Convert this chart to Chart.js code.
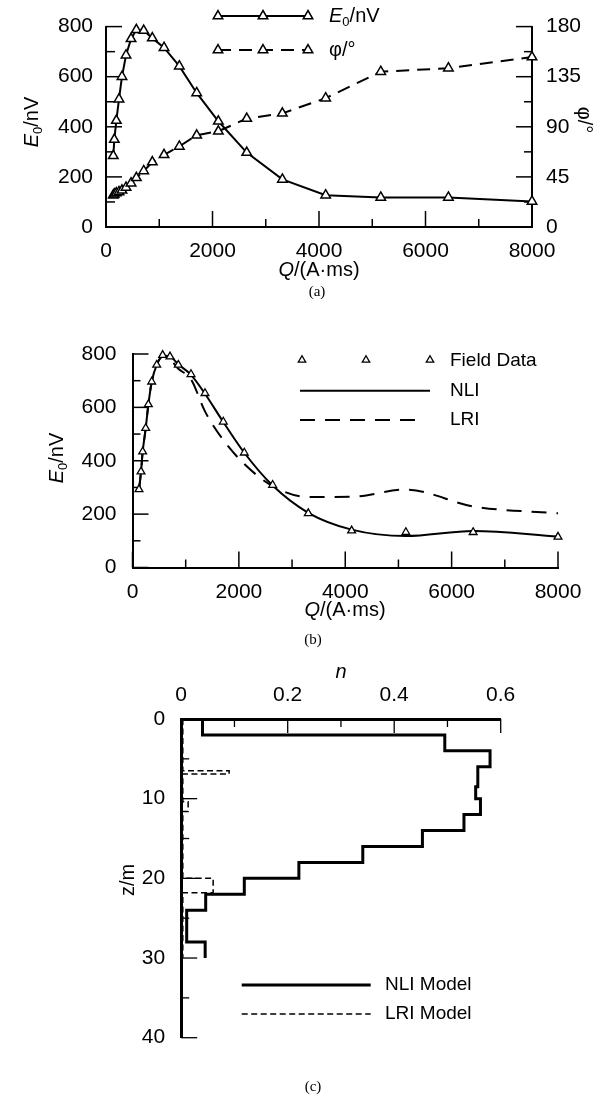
<!DOCTYPE html>
<html><head><meta charset="utf-8">
<script src="https://cdn.jsdelivr.net/npm/chart.js@4.4.1/dist/chart.umd.min.js"></script>
<style>
html,body{margin:0;padding:0;background:#fff;}
body{width:614px;height:1099px;position:relative;overflow:hidden;}
canvas{position:absolute;left:0;}
</style></head><body>
<canvas id="ca" width="614" height="305" style="top:0px;width:614px;height:305px"></canvas>
<canvas id="cb" width="614" height="330" style="top:320px;width:614px;height:330px"></canvas>
<canvas id="cc" width="614" height="449" style="top:650px;width:614px;height:449px"></canvas>
<script>
// ---------- data (a) ----------
const qA   = [137,156,194,244,300,376,470,570,708,870,1090,1377,1703,2110,2643,3312,4125,5160,6430,8000];
const e0A  = [284,349,425,510,600,686,751,787,784,754,716,642,535,422,297,190,127,118,118,102];
const phiA = [28.6,29.5,30.5,31.5,33,35.5,39.3,44.2,50.3,58.3,64.8,72.4,82.4,86,97.4,102.1,115.7,139.5,142.6,152.6];
// ---------- data (b) ----------
const qB     = [122,160,191,248,298,361,455,567,705,861,1100,1363,1707,2102,2635,3305,4120,5140,6405,8000];
const fieldB = [293,359,434,522,611,696,759,796,790,759,724,653,546,430,309,203,138,132,132,115];
const nliB   = [291,358,433,521,610,695,759,793,791,761,722,651,545,430,307,205,142,118,137,116];
const lriB   = [291,358,433,521,610,695,759,790,780,745,705,585,478,388,305,264,265,292,229,203];
// ---------- data (c) : layered models ----------
const nliN      = [0.04,0.495,0.58,0.557,0.553,0.562,0.531,0.453,0.341,0.221,0.1185,0.046,0.0103,0.045];
const nliBottom = [2,4,6,8.5,10,12,14,16,18,20,22,24,28,30];
const lriN      = [0.003,0.09,0.003,0.013,0.003,0.06,0.003];
const lriBottom = [6.5,6.9,10.4,11.6,20,21.8,30];
// ---------- tick labels ----------
const qTicks   = [0,2000,4000,6000,8000];
const eTicks   = [0,200,400,600,800];
const phiTicks = [0,45,90,135,180];
const nTicks   = [0,0.2,0.4,0.6];
const zTicks   = [0,10,20,30,40];

const FONT  = "'Liberation Sans', Arial, Helvetica, sans-serif";
const SERIF = "'Liberation Serif', 'Times New Roman', serif";
Chart.defaults.font.family = FONT;
Chart.defaults.color = '#000';

function setTicks(vals){ return s => { s.ticks = vals.map(v => ({value:v})); }; }
function fixW(w){ return s => { s.width = w; }; }
function fixH(h){ return s => { s.height = h; }; }
function pts(xs, ys){ return xs.map((x,i)=>({x:x, y:ys[i]})); }
function layers(ns, bottoms){ const d=[{x:ns[0], y:0}]; ns.forEach((n,i)=>d.push({x:n, y:bottoms[i]})); return d; }

function axis(pos, min, max, vals, w, h, padding, bw, extra){
  const o = {
    type:'linear', position:pos, min:min, max:max,
    grid:{display:false, drawTicks:false},
    border:{display:true, color:'#000', width:bw},
    ticks:{font:{size:21}, color:'#000', padding:padding, maxRotation:0, autoSkip:false, callback:v=>String(v)},
    afterBuildTicks:setTicks(vals)
  };
  if (w!=null) o.afterFit = fixW(w);
  if (h!=null) o.afterFit = fixH(h);
  return Object.assign(o, extra||{});
}

function tri(ctx, x, y, r, lw){
  ctx.save();
  ctx.beginPath();
  for (let k=0;k<3;k++){
    const a = k*2*Math.PI/3;
    const px = x + Math.sin(a)*r, py = y - Math.cos(a)*r;
    if (k===0) ctx.moveTo(px,py); else ctx.lineTo(px,py);
  }
  ctx.closePath();
  ctx.fillStyle='#fff'; ctx.fill();
  ctx.lineWidth=lw; ctx.strokeStyle='#000'; ctx.stroke();
  ctx.restore();
}
function line(ctx, x1, y1, x2, y2, lw, dash){
  ctx.save(); ctx.beginPath(); ctx.setLineDash(dash||[]); ctx.lineWidth=lw; ctx.strokeStyle='#000';
  ctx.moveTo(x1,y1); ctx.lineTo(x2,y2); ctx.stroke(); ctx.restore();
}
function rich(ctx, parts, x, y, rot, align){
  ctx.save();
  ctx.translate(x,y);
  if (rot) ctx.rotate(rot);
  ctx.textBaseline='middle'; ctx.textAlign='left'; ctx.fillStyle='#000';
  const f = p => (p.i?'italic ':'') + p.s + 'px ' + (p.f||FONT);
  let tot=0;
  parts.forEach(p=>{ ctx.font=f(p); p.w=ctx.measureText(p.t).width; tot+=p.w; });
  let cx = align==='left' ? 0 : -tot/2;
  parts.forEach(p=>{ ctx.font=f(p); ctx.fillText(p.t, cx, p.dy||0); cx+=p.w; });
  ctx.restore();
}
function tickPlugin(specs){
  return { id:'inTicks', beforeDatasetsDraw(chart){
    const ctx=chart.ctx; ctx.save(); ctx.strokeStyle='#000';
    specs.forEach(sp=>{
      const s=chart.scales[sp.id]; ctx.lineWidth=sp.lw;
      const n=Math.round((sp.max-sp.min)/sp.step);
      for(let i=0;i<=n;i++){
        const v=sp.min+i*sp.step;
        const len=(i%sp.every===0)?sp.major:sp.minor;
        const p=s.getPixelForValue(v);
        ctx.beginPath();
        if(sp.side==='left'){ ctx.moveTo(s.right,p); ctx.lineTo(s.right+len,p); }
        else if(sp.side==='right'){ ctx.moveTo(s.left,p); ctx.lineTo(s.left-len,p); }
        else if(sp.side==='bottom'){ ctx.moveTo(p,s.top); ctx.lineTo(p,s.top-len); }
        else { ctx.moveTo(p,s.bottom); ctx.lineTo(p,s.bottom+len); }
        ctx.stroke();
      }
    });
    ctx.restore();
  }};
}
const E0 = s => [{t:'E',i:1,s:s},{t:'0',s:Math.round(s*0.65),dy:Math.round(s*0.28)},{t:'/nV',s:s}];
const QT = s => [{t:'Q',i:1,s:s},{t:'/(A·ms)',s:s}];
const baseOpts = {responsive:false, animation:false, devicePixelRatio:1, events:[],
  plugins:{legend:{display:false}, tooltip:{enabled:false}}};

// ================= (a) =================
new Chart(document.getElementById('ca'), {
  type:'scatter',
  data:{datasets:[
    {label:'E0/nV', data:pts(qA,e0A), yAxisID:'y', showLine:true, clip:false, borderColor:'#000', borderWidth:2,
     pointStyle:'triangle', pointRadius:5.5, pointBackgroundColor:'#fff', pointBorderColor:'#000', pointBorderWidth:1.5},
    {label:'φ/°', data:pts(qA,phiA), yAxisID:'y1', showLine:true, clip:false, borderColor:'#000', borderWidth:2, borderDash:[13,8],
     pointStyle:'triangle', pointRadius:5.5, pointBackgroundColor:'#fff', pointBorderColor:'#000', pointBorderWidth:1.5}
  ]},
  options:Object.assign({}, baseOpts, {
    layout:{padding:{top:15,left:0,right:0,bottom:0}},
    scales:{
      x: axis('bottom',0,8000,qTicks,null,78,12,2),
      y: axis('left',0,800,eTicks,106,null,13,2),
      y1: axis('right',0,180,phiTicks,82,null,14,2)
    }
  }),
  plugins:[tickPlugin([
    {id:'x',side:'bottom',min:0,max:8000,step:1000,every:2,major:16,minor:8,lw:1.5},
    {id:'y',side:'left',min:0,max:800,step:100,every:2,major:16,minor:9,lw:1.5},
    {id:'y1',side:'right',min:0,max:180,step:22.5,every:2,major:16,minor:8,lw:1.5}
  ]),{id:'decoA', afterDraw(chart){
    const ctx=chart.ctx;
    rich(ctx, E0(20), 32, 122, -Math.PI/2);
    rich(ctx, QT(20), 319, 270);
    rich(ctx, [{t:'φ/°',s:20}], 584, 120, Math.PI/2);
    rich(ctx, [{t:'(a)',s:15,f:SERIF}], 317, 292);
    line(ctx,218,16,308,16,2);
    [218,263,308].forEach(x=>tri(ctx,x,16,5.5,1.5));
    rich(ctx, E0(20), 329, 16, 0, 'left');
    line(ctx,218,50,308,50,2,[13,8]);
    [218,263,308].forEach(x=>tri(ctx,x,50,5.5,1.5));
    rich(ctx, [{t:'φ/°',s:20}], 329, 50, 0, 'left');
  }}]
});

// ================= (b) =================
new Chart(document.getElementById('cb'), {
  type:'scatter',
  data:{datasets:[
    {label:'Field Data', data:pts(qB,fieldB), showLine:false, clip:false,
     pointStyle:'triangle', pointRadius:4.5, pointBackgroundColor:'#fff', pointBorderColor:'#000', pointBorderWidth:1.3},
    {label:'NLI', data:pts(qB,nliB), showLine:true, clip:false, borderColor:'#000', borderWidth:2, pointRadius:0, cubicInterpolationMode:'monotone'},
    {label:'LRI', data:pts(qB,lriB), showLine:true, clip:false, borderColor:'#000', borderWidth:2, borderDash:[15,10], pointRadius:0, cubicInterpolationMode:'monotone'}
  ]},
  options:Object.assign({}, baseOpts, {
    layout:{padding:{top:34,left:0,right:56,bottom:0}},
    scales:{
      x: axis('bottom',0,8000,qTicks,null,82.5,12,2),
      y: axis('left',0,800,eTicks,132.5,null,16,2)
    }
  }),
  plugins:[tickPlugin([
    {id:'x',side:'bottom',min:0,max:8000,step:1000,every:2,major:16,minor:8,lw:1.5},
    {id:'y',side:'left',min:0,max:800,step:100,every:2,major:16,minor:8,lw:1.5}
  ]),{id:'decoB', afterDraw(chart){
    const ctx=chart.ctx;
    rich(ctx, E0(20), 57, 138, -Math.PI/2);
    rich(ctx, QT(20), 345, 290);
    rich(ctx, [{t:'(b)',s:15,f:SERIF}], 313, 320);
    [302,366,430].forEach(x=>tri(ctx,x,40,4.3,1.3));
    rich(ctx, [{t:'Field Data',s:19}], 450, 41, 0, 'left');
    line(ctx,300,70.7,430,70.7,2);
    rich(ctx, [{t:'NLI',s:19}], 450, 70.5, 0, 'left');
    line(ctx,300,100,425,100,2,[15,10]);
    rich(ctx, [{t:'LRI',s:19}], 450, 100, 0, 'left');
  }}]
});

// ================= (c) =================
new Chart(document.getElementById('cc'), {
  type:'scatter',
  data:{datasets:[
    {label:'NLI Model', data:layers(nliN,nliBottom), showLine:true, stepped:true, clip:false, borderColor:'#000', borderWidth:3, pointRadius:0},
    {label:'LRI Model', data:layers(lriN,lriBottom), showLine:true, stepped:true, clip:false, borderColor:'#000', borderWidth:1.5, borderDash:[6,3.5], pointRadius:0}
  ]},
  options:Object.assign({}, baseOpts, {
    layout:{padding:{top:0,left:0,right:113.3,bottom:61.3}},
    scales:{
      x: axis('top',0,0.6,nTicks,null,69,11,3),
      y: axis('left',0,40,zTicks,181.2,null,16,3,{reverse:true})
    }
  }),
  plugins:[tickPlugin([
    {id:'x',side:'top',min:0,max:0.6,step:0.1,every:2,major:14,minor:8,lw:1.3},
    {id:'y',side:'left',min:0,max:40,step:5,every:2,major:16,minor:8,lw:1.3}
  ]),{id:'decoC', afterDraw(chart){
    const ctx=chart.ctx;
    rich(ctx, [{t:'n',i:1,s:20}], 341, 22);
    rich(ctx, [{t:'z/m',s:20}], 128, 230, -Math.PI/2);
    rich(ctx, [{t:'(c)',s:15,f:SERIF}], 313, 437);
    line(ctx,241.7,335,370.7,335,3);
    rich(ctx, [{t:'NLI Model',s:19}], 385, 335, 0, 'left');
    line(ctx,241.7,364,370.7,364,1.5,[6,3.5]);
    rich(ctx, [{t:'LRI Model',s:19}], 385, 364, 0, 'left');
  }}]
});
</script>
</body></html>
